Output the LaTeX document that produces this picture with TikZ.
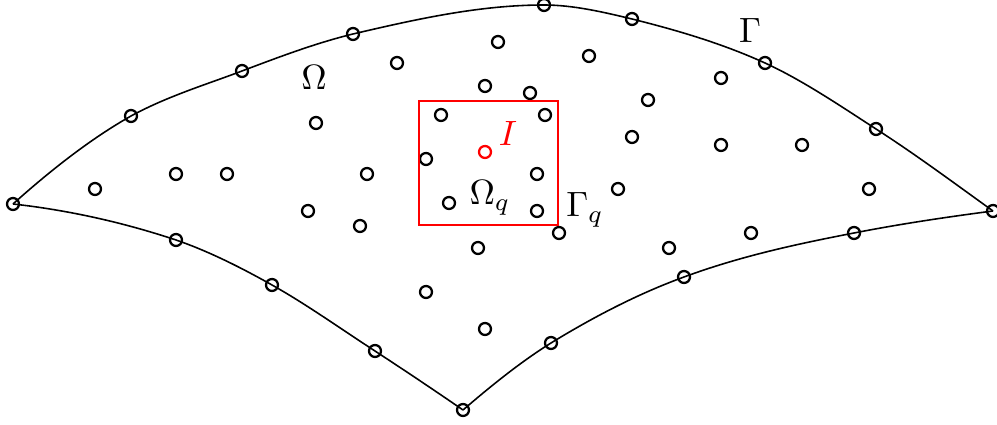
\documentclass[tikz,border=0pt]{standalone}
\usepackage{amsmath}
\usepackage{xcolor}
\usetikzlibrary{positioning}
\definecolor{Mark}{HTML}{FF0000}
\tikzset{pt/.style={circle,draw=black,line width=0.65pt,inner sep=0pt,minimum size=3.4pt},redpt/.style={pt,draw=Mark},edge/.style={draw=black,line width=0.45pt},patch/.style={draw=Mark,line width=0.4pt},lbl/.style={text=black,inner sep=0pt}}
\begin{document}
\begin{tikzpicture}[x=0.01cm,y=-0.01cm]
\useasboundingbox (0,0) rectangle (997,425);
% boundary points
\node[pt] (L) at (13,204) {};\node[pt] (R) at (993,211) {};\node[pt] (B) at (463,410) {};
\node[pt] (t1) at (131,116) {};\node[pt] (t2) at (242,71) {};\node[pt] (t3) at (353,34) {};\node[pt] (t4) at (544,5) {};\node[pt] (t5) at (632,19) {};\node[pt] (t6) at (765,63) {};\node[pt] (t7) at (876,129) {};
\node[pt] (l1) at (176,240) {};\node[pt] (l2) at (272,285) {};\node[pt] (l3) at (375,351) {};
\node[pt] (r1) at (551,343) {};\node[pt] (r2) at (684,277) {};\node[pt] (r3) at (854,233) {};
% boundary Gamma
\draw[edge] (L.center) .. controls +(39,-35) and +(-39,22) .. (t1.center) .. controls +(37,-20) and +(-37,14) .. (t2.center) .. controls +(37,-14) and +(-37,9) .. (t3.center) .. controls +(64,-15) and +(-64,0) .. (t4.center) .. controls +(29,0) and +(-29,-7) .. (t5.center) .. controls +(44,11) and +(-44,-20) .. (t6.center) .. controls +(37,17) and +(-37,-24) .. (t7.center) .. controls +(39,25) and +(-39,-28) .. (R.center);
\draw[edge] (L.center) .. controls +(54,6) and +(-54,-18) .. (l1.center) .. controls +(32,11) and +(-32,-18) .. (l2.center) .. controls +(34,19) and +(-34,-22) .. (l3.center) .. controls +(29,19) and +(-29,-20) .. (B.center);
\draw[edge] (B.center) .. controls +(29,-25) and +(-29,18) .. (r1.center) .. controls +(44,-27) and +(-44,16) .. (r2.center) .. controls +(57,-21) and +(-57,11) .. (r3.center) .. controls +(46,-9) and +(-46,6) .. (R.center);
% interior points
\node[pt] (p1) at (95,189) {};\node[pt] (p2) at (176,174) {};\node[pt] (p3) at (227,174) {};\node[pt] (p4) at (367,174) {};\node[pt] (p5) at (316,123) {};\node[pt] (p6) at (397,63) {};\node[pt] (p7) at (498,42) {};\node[pt] (p8) at (485,86) {};
\node[pt] (p9) at (308,211) {};\node[pt] (p10) at (360,226) {};\node[pt] (p11) at (478,248) {};\node[pt] (p12) at (426,292) {};\node[pt] (p13) at (485,329) {};
\node[pt] (p14) at (589,56) {};\node[pt] (p15) at (648,100) {};\node[pt] (p16) at (721,78) {};\node[pt] (p17) at (632,137) {};\node[pt] (p18) at (721,145) {};\node[pt] (p19) at (802,145) {};\node[pt] (p20) at (618,189) {};\node[pt] (p21) at (869,189) {};
\node[pt] (p22) at (559,233) {};\node[pt] (p23) at (669,248) {};\node[pt] (p24) at (751,233) {};
% points in the patch
\node[pt] (q1) at (441,115) {};\node[pt] (q2) at (530,93) {};\node[pt] (q3) at (545,115) {};\node[pt] (q4) at (426,159) {};\node[pt] (q5) at (537,174) {};\node[pt] (q6) at (449,203) {};\node[pt] (q7) at (537,211) {};
\node[redpt] (I) at (485,152) {};
\draw[patch] (419,101) rectangle (558,225);
% labels
\node[lbl] (Om) at (314,77) {$\Omega$};\node[lbl] (Ga) at (750,30) {$\Gamma$};\node[lbl] (Omq) at (490,198) {$\Omega_q$};\node[lbl] (Gaq) at (585,210) {$\Gamma_q$};\node[lbl,text=Mark] (Ilbl) at (508,133) {$I$};
\end{tikzpicture}
\end{document}
